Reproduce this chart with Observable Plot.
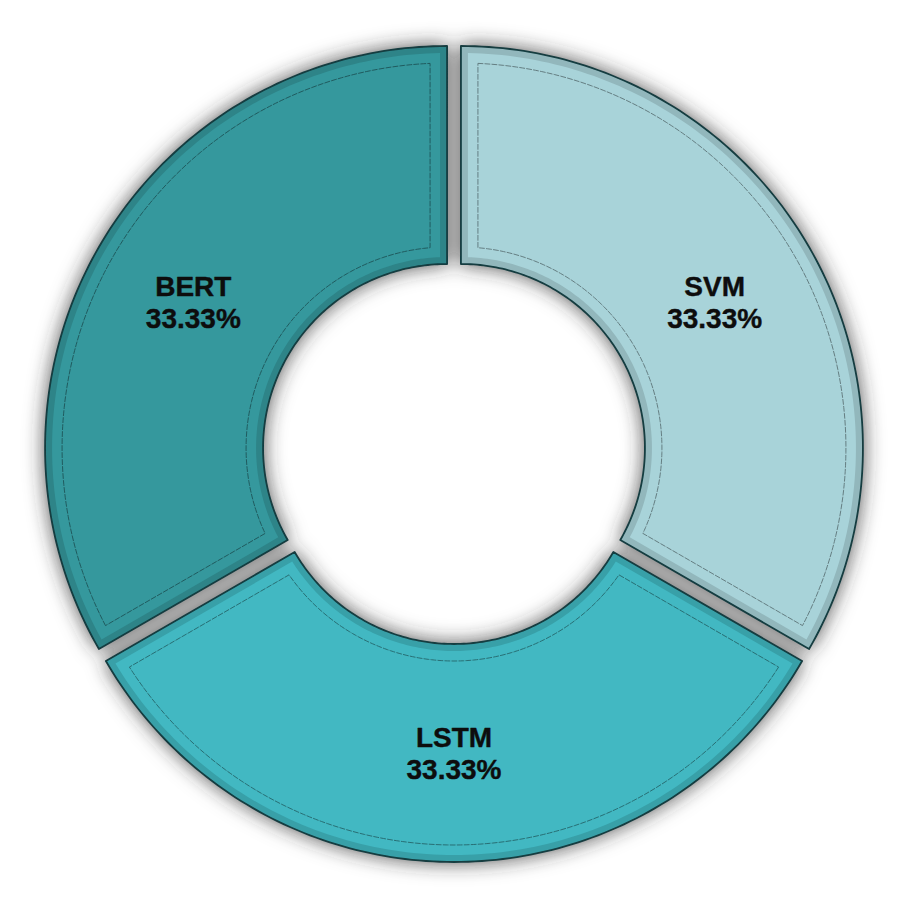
<!DOCTYPE html>
<html>
<head>
<meta charset="utf-8">
<script src="https://cdn.jsdelivr.net/npm/d3@7"></script>
<script src="https://cdn.jsdelivr.net/npm/@observablehq/plot@0.6"></script>
<style>
  html, body { margin: 0; padding: 0; background: #fff; }
  #chart svg { display: block; background: #fff; }
</style>
</head>
<body>
<div id="chart"></div>
<script>
// ---- data ----
const categories = ["SVM", "LSTM", "BERT"];
const values = [33.33, 33.33, 33.33];

// ---- styling ----
const palette = ["#a8d3d9", "#42b8c2", "#35989d"];
const W = 905, H = 907;
const cx = 1, cy = -2;          // ring centre in plot units (pixels)
const R = 402, r = 184;         // outer / inner radius
const explode = 8;              // slice offset
const labelR = 293;
const bevel = 7, dashInset = 17;

const total = d3.sum(values);
let acc = 0;
const slices = categories.map((key, i) => {
  const a0 = acc / total * 2 * Math.PI;
  acc += values[i];
  const a1 = acc / total * 2 * Math.PI;
  const mid = (a0 + a1) / 2;
  return {key, value: values[i], a0, a1, mid,
    ox: cx + explode * Math.sin(mid), oy: cy - explode * Math.cos(mid),
    color: palette[i]};
});

function ring(s, t, layer) {
  const pts = [];
  const N = 120;
  const ro = R - t, ri = r + t;
  const ao0 = s.a0 + Math.asin(t / ro), ao1 = s.a1 - Math.asin(t / ro);
  const ai0 = s.a0 + Math.asin(t / ri), ai1 = s.a1 - Math.asin(t / ri);
  for (let k = 0; k <= N; k++) {
    const a = ao0 + (ao1 - ao0) * k / N;
    pts.push({key: s.key, layer, s, x: s.ox + ro * Math.sin(a), y: s.oy - ro * Math.cos(a)});
  }
  for (let k = N; k >= 0; k--) {
    const a = ai0 + (ai1 - ai0) * k / N;
    pts.push({key: s.key, layer, s, x: s.ox + ri * Math.sin(a), y: s.oy - ri * Math.cos(a)});
  }
  return pts;
}

const basePts = slices.flatMap(s => ring(s, 0, "base"));
const innerPts = slices.flatMap(s => ring(s, bevel, "inner"));
const dashPts = slices.flatMap(s => ring(s, dashInset, "dash"));

const labels = slices.map(s => ({
  x: s.ox + labelR * Math.sin(s.mid),
  y: s.oy - labelR * Math.cos(s.mid),
  text: `${s.key}\n${s.value.toFixed(2)}%`
}));

const chart = Plot.plot({
  width: W, height: H,
  margin: 0,
  x: {domain: [-W / 2, W / 2], axis: null},
  y: {domain: [-H / 2, H / 2], range: [0, H], axis: null},
  color: {type: "identity"},
  marks: [
    Plot.line(basePts, {x: "x", y: "y", z: "key", curve: "linear-closed",
      fill: d => d3.color(d.s.color).darker(0.4).formatHex(),
      stroke: "#123c40", strokeWidth: 1.8}),
    Plot.line(innerPts, {x: "x", y: "y", z: "key", curve: "linear-closed",
      fill: d => d.s.color, stroke: "none"}),
    Plot.line(dashPts, {x: "x", y: "y", z: "key", curve: "linear-closed",
      fill: "none", stroke: d => d3.color(d.s.color).darker(1.8).formatHex(),
      strokeWidth: 1, strokeDasharray: "5,2", strokeOpacity: 0.85}),
    Plot.text(labels, {x: "x", y: "y", text: "text",
      fontSize: 28, fontWeight: "bold", lineHeight: 1.15,
      fontFamily: "Liberation Sans, Arial, sans-serif", fill: "#0d0d0d",
      stroke: "#0d0d0d", strokeWidth: 0.4})
  ]
});

// soft shadow around the ring
const svg = d3.select(chart);
const defs = svg.insert("defs", ":first-child");
const f = defs.append("filter").attr("id", "ringShadow")
  .attr("x", "-20%").attr("y", "-20%").attr("width", "140%").attr("height", "140%");
f.append("feDropShadow").attr("dx", 0).attr("dy", 0)
  .attr("stdDeviation", 10).attr("flood-color", "#2a2a2a").attr("flood-opacity", 0.8);
svg.select('g[aria-label="line"]').attr("filter", "url(#ringShadow)");

document.getElementById("chart").appendChild(chart);
</script>
</body>
</html>
